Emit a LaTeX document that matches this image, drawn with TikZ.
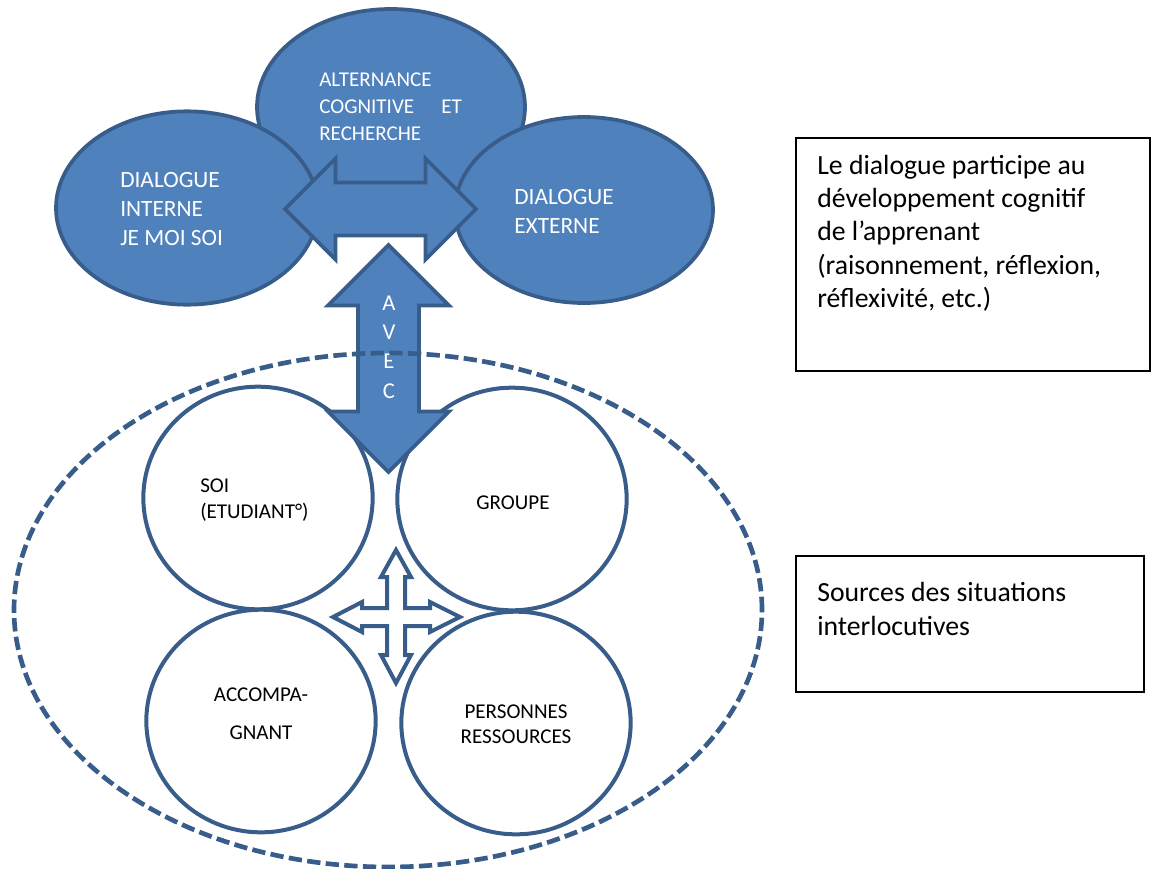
\documentclass[tikz,border=0pt]{standalone}
\usepackage{fontspec}
\setmainfont{Carlito}
\usepackage{tikz}
\usetikzlibrary{positioning, shapes.arrows, shapes.geometric}
\definecolor{officeblue}{HTML}{4F81BD}
\definecolor{officeline}{HTML}{385D8A}
\tikzset{
bubble/.style = { ellipse, draw = officeline, fill = officeblue, line width = 2.8pt, inner sep = 0pt },
bubble text/.style = { text = white, align = left, inner sep = 0pt, anchor = west },
source/.style = { ellipse, draw = officeline, fill = white, line width = 3pt, minimum width = 172pt, minimum height = 167pt, inner sep = 0pt },
source text/.style = { black, inner sep = 0pt, font = \fontsize{15.8}{19.5}\selectfont },
big arrow/.style = { double arrow, draw = officeline, fill = officeblue, line width = 2.8pt, inner xsep = 0pt },
note/.style = { rectangle, draw = black, line width = 1.1pt },
note text/.style = { black, align = left, inner sep = 0pt, anchor = west, font = \fontsize{20.8}{25}\selectfont },
}
\tikzset{
pics/cross arrow/.style = {
        code = {
        \path[draw = officeline, fill = white, line width = 3pt, line join = miter] (0, -67) -- (15, -40) -- (9, -40) -- (9, -9) -- (34, -9) -- (34, -15) -- (64, 0) -- (34, 15) -- (34, 9) -- (9, 9) -- (9, 38) -- (15, 38) -- (0, 66) -- (-15, 38) -- (-9, 38) -- (-9, 9) -- (-34, 9) -- (-34, 15) -- (-63, 0) -- (-34, -15) -- (-34, -9) -- (-9, -9) -- (-9, -40) -- (-15, -40) -- cycle;
        }
    }
}

\begin{document}
\begin{tikzpicture}[x = 0.75pt, y = -0.75pt]
    \useasboundingbox (0, 0) rectangle (1157, 868);
    % dialogue
    \node[bubble, minimum width = 201pt, minimum height = 147pt] (alternance) at (391, 107) {};
    \node[bubble text, font = \fontsize{15.8}{20.25}\selectfont] (alternance text) at (319, 106.5) {ALTERNANCE\\\makebox[107pt][l]{COGNITIVE\hfill ET}\\RECHERCHE};
    \node[bubble, minimum width = 196.5pt, minimum height = 145pt] (interne) at (187, 208) {};
    \node[bubble text, font = \fontsize{17.5}{21.75}\selectfont] (interne text) at (120, 209) {DIALOGUE\\INTERNE\\JE MOI SOI};
    \node[bubble, minimum width = 193.5pt, minimum height = 139.5pt] (externe) at (584, 210) {};
    \node[bubble text, font = \fontsize{17.5}{21.75}\selectfont] (externe text) at (514, 211.5) {DIALOGUE\\EXTERNE};
    \node[big arrow, inner ysep = 18.4pt, minimum height = 143.25pt, double arrow head extend = 18pt] (echange) at (380.5, 209) {};
    % sources
    \node[source] (soi) at (258, 498) {};
    \node[source] (groupe) at (512, 499) {};
    \node[source] (accompagnant) at (261, 721) {};
    \node[source] (personnes) at (516, 723) {};
    \node[source text, align = left, anchor = west] (soi text) at (200, 500) {SOI\\(ETUDIANT°)};
    \node[source text] (groupe text) at (513, 503) {GROUPE};
    \node[source text, align = center] (accompagnant text) at (261, 714) {ACCOMPA-\\[9pt]GNANT};
    \node[source text, align = center, font = \fontsize{15.8}{18.75}\selectfont] (personnes text) at (516, 724) {PERSONNES\\RESSOURCES};
    \node[big arrow, rotate = 90, inner ysep = 21.4pt, minimum height = 170.25pt, double arrow head extend = 22.5pt] (avec) at (388.5, 358.5) {};
    \node[text = white, align = center, inner sep = 0pt, font = \fontsize{17}{22}\selectfont] (avec text) at (389, 347) {A\\V\\E\\C};
    \node[ellipse, draw = officeline, line width = 3.5pt, dash pattern = on 10pt off 4pt, minimum width = 561pt, minimum height = 385.5pt] (sources) at (388, 610) {};
    \draw (396, 617) pic{cross arrow};
    % notes
    \node[note, minimum width = 265.5pt, minimum height = 175pt] (participe) at (973, 254.5) {};
    \node[note text] (participe text) at (817, 233) {Le dialogue participe au\\développement cognitif\\de l’apprenant\\(raisonnement, réflexion,\\réflexivité, etc.)};
    \node[note, minimum width = 261pt, minimum height = 102pt] (situations) at (970, 624) {};
    \node[note text] (situations text) at (817, 609) {Sources des situations\\interlocutives};
\end{tikzpicture}
\end{document}
